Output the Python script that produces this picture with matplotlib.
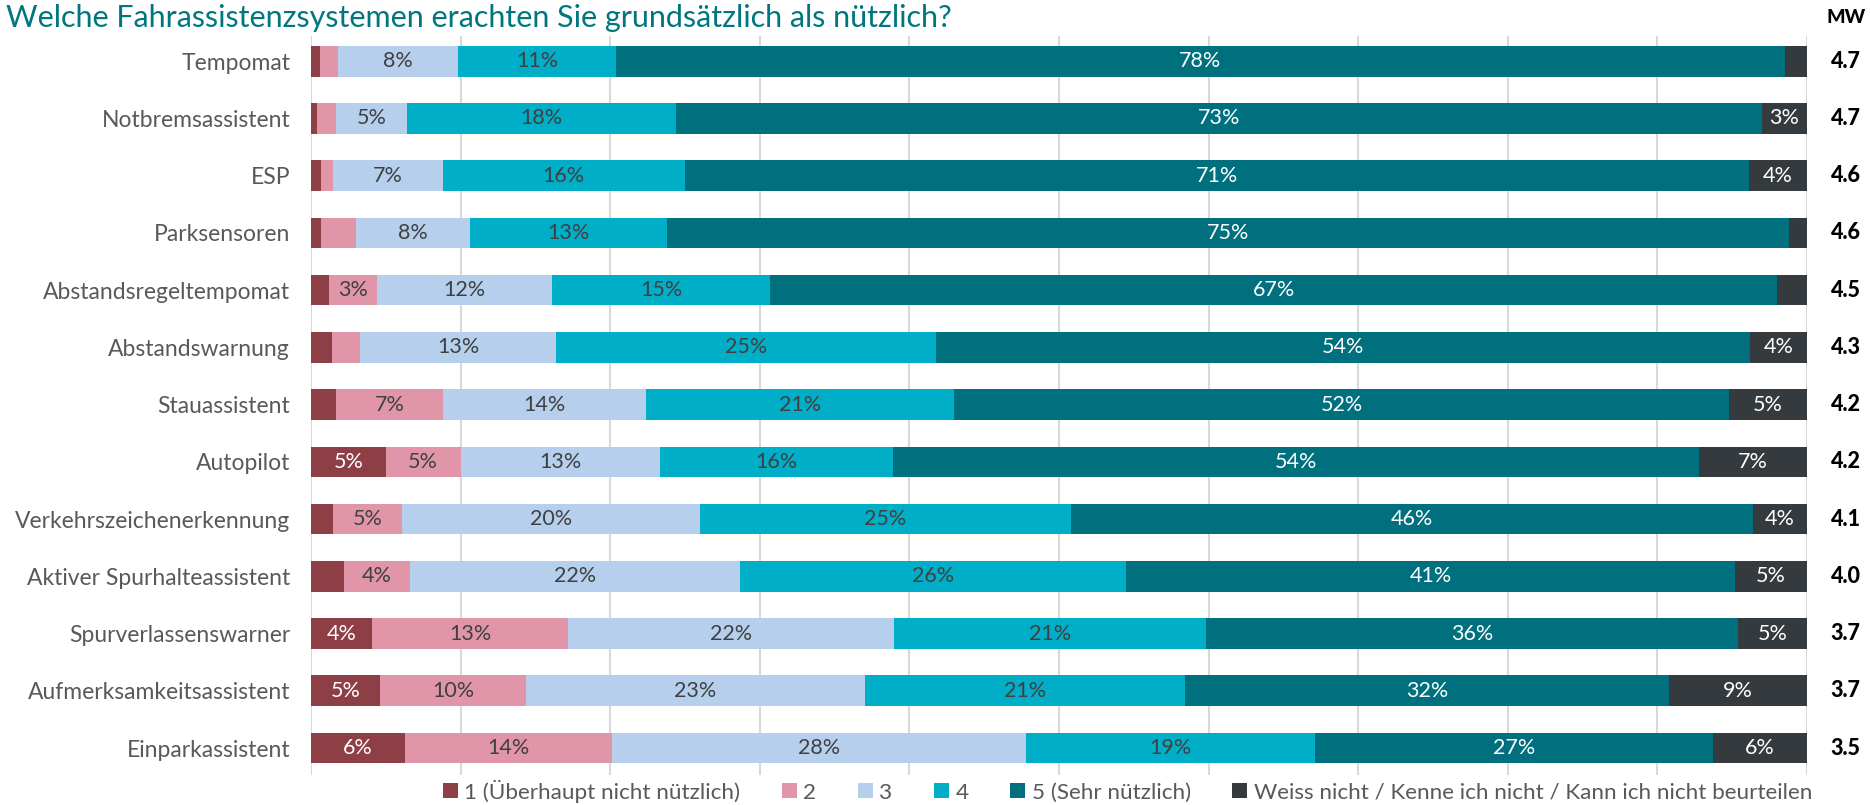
import numpy as np
import matplotlib
matplotlib.use("Agg")
import matplotlib.pyplot as plt
from matplotlib.patches import Patch
from matplotlib.transforms import blended_transform_factory

# ── Data ───────────────────────────────────────────────────────────────────────
categories = [
    "Tempomat", "Notbremsassistent", "ESP", "Parksensoren",
    "Abstandsregeltempomat", "Abstandswarnung", "Stauassistent", "Autopilot",
    "Verkehrszeichenerkennung", "Aktiver Spurhalteassistent",
    "Spurverlassenswarner", "Aufmerksamkeitsassistent", "Einparkassistent",
]
s1 = [0.6, 0.4, 0.7, 0.7, 1.2, 1.4, 1.7, 5.0, 1.5, 2.2, 4.1, 4.6, 6.3]
s2 = [1.2, 1.3, 0.8, 2.3, 3.2, 1.9, 7.1, 5.0, 4.6, 4.4, 13.1, 9.8, 13.8]
s3 = [8.0, 4.7, 7.3, 7.6, 11.7, 13.1, 13.6, 13.3, 19.9, 22.1, 21.8, 22.6, 27.7]
s4 = [10.6, 18.0, 16.2, 13.2, 14.6, 25.4, 20.6, 15.6, 24.8, 25.8, 20.8, 21.4, 19.3]
s5 = [78.1, 72.6, 71.1, 75.0, 67.3, 54.4, 51.8, 53.9, 45.6, 40.7, 35.6, 32.4, 26.6]
s6 = [1.5, 3.0, 3.9, 1.2, 2.0, 3.8, 5.2, 7.2, 3.6, 4.8, 4.6, 9.2, 6.3]
mean_values = [4.7, 4.7, 4.6, 4.6, 4.5, 4.3, 4.2, 4.2, 4.1, 4.0, 3.7, 3.7, 3.5]

series_names = [
    "1 (Überhaupt nicht nützlich)", "2", "3", "4", "5 (Sehr nützlich)",
    "Weiss nicht / Kenne ich nicht / Kann ich nicht beurteilen",
]

# ── Style ──────────────────────────────────────────────────────────────────────
colors      = ["#8E3F46", "#E195A8", "#B5CFED", "#00AEC7", "#00707E", "#343A3D"]
text_colors = ["white", "#404040", "#404040", "#404040", "white", "white"]
GREY_TXT    = "#595959"
TITLE_COL   = "#00777F"
FONT        = "Lato"

plt.rcParams["font.family"] = [FONT, "DejaVu Sans"]

fig = plt.figure(figsize=(18.7, 8.05), dpi=100)
ax = fig.add_axes([0.1663, 0.0373, 0.8, 0.918])

series = [s1, s2, s3, s4, s5, s6]
y = np.arange(len(categories))
left = np.zeros(len(categories))

for vals, col, tcol in zip(series, colors, text_colors):
    vals = np.array(vals)
    ax.barh(y, vals, left=left, height=0.536, color=col, zorder=3)
    for yi, (l, v) in enumerate(zip(left, vals)):
        if round(v) >= 3:
            ax.text(l + v / 2, yi, f"{round(v)}%", ha="center", va="center",
                    fontsize=15.5, color=tcol, zorder=4)
    left += vals

ax.set_xlim(0, 100)
ax.set_ylim(12.47, -0.44)
ax.set_xticks(np.arange(0, 101, 10))
ax.xaxis.grid(True, color="#D9D9D9", linewidth=1.5, zorder=0)
ax.tick_params(axis="x", length=0, labelbottom=False)
ax.tick_params(axis="y", length=0, pad=15)
ax.set_yticks(y)
ax.set_yticklabels(categories, fontsize=16.5, color=GREY_TXT)
for sp in ax.spines.values():
    sp.set_visible(False)

# ── Mean column ────────────────────────────────────────────────────────────────
trans = blended_transform_factory(fig.transFigure, ax.transData)
for yi, mv in enumerate(mean_values):
    ax.text(0.987, yi, f"{mv:.1f}", transform=trans, ha="center", va="center",
            fontsize=15.5, fontweight="black", color="black")
fig.text(0.987, 0.978, "MW", ha="center", va="center", fontsize=14,
         fontweight="black", color="black")

# ── Title ──────────────────────────────────────────────────────────────────────
fig.text(0.003, 0.978, "Welche Fahrassistenzsystemen erachten Sie grundsätzlich als nützlich?",
         ha="left", va="center", fontsize=22, color=TITLE_COL)

# ── Legend ─────────────────────────────────────────────────────────────────────
handles = [Patch(facecolor=c, edgecolor="none") for c in colors]
fig.legend(handles, series_names, loc="center", bbox_to_anchor=(0.603, 0.017),
           ncol=6, frameon=False, fontsize=16.2, labelcolor=GREY_TXT,
           handlelength=0.65, handleheight=0.65, handletextpad=0.3,
           columnspacing=1.85)

fig.savefig("out.png", dpi=100)
